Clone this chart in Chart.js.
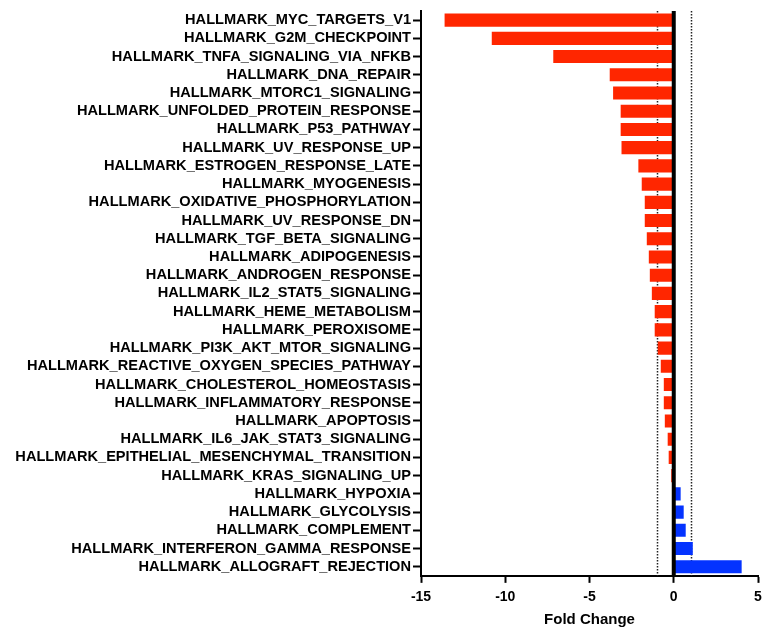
<!DOCTYPE html>
<html lang="en">
<head>
    <meta charset="UTF-8">
    <title>Hallmark Fold Change</title>
    <script src="https://cdn.jsdelivr.net/npm/chart.js"></script>
    <style>
        html, body { margin: 0; padding: 0; background: #fff; }
        #wrap { width: 763px; height: 628px; }
    </style>
</head>
<body>
    <div id="wrap"><canvas id="fcChart"></canvas></div>

    <script>
        // Pathway names, top to bottom
        const pathways = [
            'HALLMARK_MYC_TARGETS_V1',
            'HALLMARK_G2M_CHECKPOINT',
            'HALLMARK_TNFA_SIGNALING_VIA_NFKB',
            'HALLMARK_DNA_REPAIR',
            'HALLMARK_MTORC1_SIGNALING',
            'HALLMARK_UNFOLDED_PROTEIN_RESPONSE',
            'HALLMARK_P53_PATHWAY',
            'HALLMARK_UV_RESPONSE_UP',
            'HALLMARK_ESTROGEN_RESPONSE_LATE',
            'HALLMARK_MYOGENESIS',
            'HALLMARK_OXIDATIVE_PHOSPHORYLATION',
            'HALLMARK_UV_RESPONSE_DN',
            'HALLMARK_TGF_BETA_SIGNALING',
            'HALLMARK_ADIPOGENESIS',
            'HALLMARK_ANDROGEN_RESPONSE',
            'HALLMARK_IL2_STAT5_SIGNALING',
            'HALLMARK_HEME_METABOLISM',
            'HALLMARK_PEROXISOME',
            'HALLMARK_PI3K_AKT_MTOR_SIGNALING',
            'HALLMARK_REACTIVE_OXYGEN_SPECIES_PATHWAY',
            'HALLMARK_CHOLESTEROL_HOMEOSTASIS',
            'HALLMARK_INFLAMMATORY_RESPONSE',
            'HALLMARK_APOPTOSIS',
            'HALLMARK_IL6_JAK_STAT3_SIGNALING',
            'HALLMARK_EPITHELIAL_MESENCHYMAL_TRANSITION',
            'HALLMARK_KRAS_SIGNALING_UP',
            'HALLMARK_HYPOXIA',
            'HALLMARK_GLYCOLYSIS',
            'HALLMARK_COMPLEMENT',
            'HALLMARK_INTERFERON_GAMMA_RESPONSE',
            'HALLMARK_ALLOGRAFT_REJECTION'
        ];

        // Fold change values
        const foldChange = [
            -13.6, -10.8, -7.15, -3.8, -3.6, -3.15, -3.15, -3.1, -2.1, -1.9,
            -1.72, -1.72, -1.6, -1.48, -1.42, -1.3, -1.13, -1.13, -0.95, -0.77,
            -0.59, -0.59, -0.53, -0.36, -0.3, -0.15,
            0.41, 0.59, 0.71, 1.13, 4.03
        ];

        const xTicks = [-15, -10, -5, 0, 5];
        const cutoffLines = [-1, 1];
        const zeroLine = 0;

        const RED = '#ff2600';
        const BLUE = '#0433ff';

        // Reference lines drawn through the x scale
        const refLines = {
            id: 'refLines',
            beforeDatasetsDraw(chart) {
                const { ctx, chartArea, scales } = chart;
                ctx.save();
                ctx.strokeStyle = '#222';
                ctx.lineWidth = 1.5;
                ctx.setLineDash([1.5, 1.5]);
                cutoffLines.forEach(v => {
                    const x = Math.round(scales.x.getPixelForValue(v)) + 0.5;
                    ctx.beginPath();
                    ctx.moveTo(x, chartArea.top);
                    ctx.lineTo(x, chartArea.bottom);
                    ctx.stroke();
                });
                ctx.restore();
            },
            afterDatasetsDraw(chart) {
                const { ctx, chartArea, scales } = chart;
                const x = scales.x.getPixelForValue(zeroLine);
                ctx.save();
                ctx.strokeStyle = '#000';
                ctx.lineWidth = 4;
                ctx.beginPath();
                ctx.moveTo(x, chartArea.top);
                ctx.lineTo(x, chartArea.bottom);
                ctx.stroke();
                ctx.restore();
            }
        };

        const ctx = document.getElementById('fcChart').getContext('2d');
        new Chart(ctx, {
            type: 'bar',
            data: {
                labels: pathways,
                datasets: [{
                    data: foldChange,
                    backgroundColor: foldChange.map(v => v < 0 ? RED : BLUE),
                    borderWidth: 0,
                    categoryPercentage: 1,
                    barPercentage: 0.72
                }]
            },
            options: {
                indexAxis: 'y',
                responsive: true,
                maintainAspectRatio: false,
                animation: false,
                layout: { padding: { top: 11, right: 5, left: 14, bottom: 0 } },
                plugins: {
                    legend: { display: false },
                    tooltip: { enabled: false }
                },
                scales: {
                    x: {
                        min: -15,
                        max: 5,
                        afterBuildTicks(axis) {
                            axis.ticks = xTicks.map(v => ({ value: v }));
                        },
                        // the end labels fit inside the layout padding
                        afterFit(axis) {
                            axis.paddingLeft = 0;
                            axis.paddingRight = 0;
                        },
                        grid: {
                            drawOnChartArea: false,
                            tickLength: 7,
                            tickWidth: 2,
                            tickColor: '#000'
                        },
                        border: { display: true, color: '#000', width: 2 },
                        ticks: {
                            color: '#000',
                            padding: 7,
                            font: { family: 'Liberation Sans', weight: 'bold', size: 14, lineHeight: 1.1 }
                        },
                        title: {
                            display: true,
                            text: 'Fold Change',
                            color: '#000',
                            padding: { top: 0, bottom: 0 },
                            font: { family: 'Liberation Sans', weight: 'bold', size: 15, lineHeight: 1.05 }
                        }
                    },
                    y: {
                        // long pathway names need more than the default half-width cap
                        afterFit(axis) {
                            axis.width = 407;
                        },
                        grid: {
                            offset: false,
                            drawOnChartArea: false,
                            tickLength: 8,
                            tickWidth: 2,
                            tickColor: '#000'
                        },
                        border: { display: true, color: '#000', width: 2 },
                        ticks: {
                            color: '#000',
                            padding: 2,
                            autoSkip: false,
                            font: { family: 'Liberation Sans', weight: 'bold', size: 14.6 }
                        }
                    }
                }
            },
            plugins: [refLines]
        });
    </script>
</body>
</html>
